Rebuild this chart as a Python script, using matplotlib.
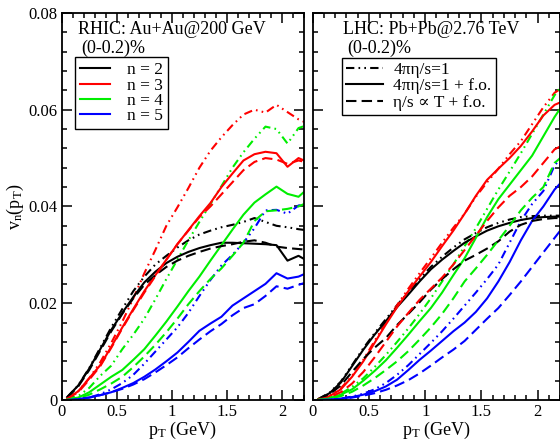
import numpy as np
import matplotlib.pyplot as plt
from matplotlib.lines import Line2D

plt.rcParams["font.family"] = ["Liberation Serif", "DejaVu Serif"]
plt.rcParams["mathtext.fontset"] = "custom"
plt.rcParams["mathtext.rm"] = "Liberation Serif"
plt.rcParams["mathtext.it"] = "Liberation Serif:italic"

# transverse momentum grid (GeV), shared by every curve
pt = [0.05, 0.15, 0.25, 0.35, 0.45, 0.55, 0.65, 0.75, 0.85, 0.95, 1.05, 1.15,
      1.25, 1.35, 1.45, 1.55, 1.65, 1.75, 1.85, 1.95, 2.05, 2.15, 2.25]

harmonics = ["n = 2", "n = 3", "n = 4", "n = 5"]
scenarios = ["4πη/s=1", "4πη/s=1 + f.o.", "η/s ∝ T + f.o."]

# RHIC Au+Au 200 GeV, 4pi eta/s = 1 without freeze-out
rhic_v2_ideal = [0.0006, 0.0030, 0.0066, 0.0108, 0.0150, 0.0188, 0.0225, 0.0255, 0.0280, 0.0298, 0.0315, 0.0330,
                 0.0342, 0.0350, 0.0357, 0.0362, 0.0368, 0.0376, 0.0368, 0.0360, 0.0357, 0.0353, 0.0350]
rhic_v3_ideal = [0.0004, 0.0018, 0.0045, 0.0078, 0.0118, 0.0162, 0.0210, 0.0262, 0.0310, 0.0360, 0.0398, 0.0438,
                 0.0480, 0.0515, 0.0543, 0.0568, 0.0590, 0.0600, 0.0594, 0.0610, 0.0595, 0.0580, 0.0570]
rhic_v4_ideal = [0.0001, 0.0008, 0.0025, 0.0050, 0.0071, 0.0105, 0.0135, 0.0168, 0.0208, 0.0250, 0.0290, 0.0330,
                 0.0368, 0.0405, 0.0442, 0.0480, 0.0512, 0.0540, 0.0565, 0.0560, 0.0530, 0.0562, 0.0570]
rhic_v5_ideal = [0.0000, 0.0002, 0.0005, 0.0012, 0.0022, 0.0035, 0.0052, 0.0075, 0.0100, 0.0125, 0.0150, 0.0180,
                 0.0215, 0.0248, 0.0278, 0.0300, 0.0325, 0.0355, 0.0392, 0.0393, 0.0385, 0.0402, 0.0405]

# RHIC, 4pi eta/s = 1 + freeze-out
rhic_v2_fo = [0.0006, 0.0030, 0.0065, 0.0105, 0.0145, 0.0180, 0.0213, 0.0243, 0.0265, 0.0283, 0.0296, 0.0306,
              0.0314, 0.0320, 0.0325, 0.0325, 0.0324, 0.0323, 0.0322, 0.0320, 0.0288, 0.0298, 0.0285]
rhic_v3_fo = [0.0003, 0.0018, 0.0045, 0.0072, 0.0110, 0.0150, 0.0188, 0.0225, 0.0258, 0.0290, 0.0322, 0.0351,
              0.0380, 0.0407, 0.0440, 0.0468, 0.0495, 0.0508, 0.0513, 0.0510, 0.0482, 0.0500, 0.0490]
rhic_v4_fo = [0.0001, 0.0005, 0.0016, 0.0032, 0.0048, 0.0062, 0.0083, 0.0105, 0.0133, 0.0162, 0.0193, 0.0225,
              0.0255, 0.0288, 0.0320, 0.0352, 0.0383, 0.0408, 0.0425, 0.0441, 0.0426, 0.0420, 0.0440]
rhic_v5_fo = [0.0000, 0.0002, 0.0005, 0.0010, 0.0016, 0.0025, 0.0035, 0.0048, 0.0063, 0.0080, 0.0098, 0.0120,
              0.0143, 0.0158, 0.0172, 0.0195, 0.0210, 0.0225, 0.0240, 0.0262, 0.0251, 0.0255, 0.0265]

# RHIC, eta/s ~ T + freeze-out
rhic_v2_T = [0.0005, 0.0028, 0.0062, 0.0102, 0.0142, 0.0178, 0.0210, 0.0238, 0.0258, 0.0275, 0.0288, 0.0298,
             0.0306, 0.0313, 0.0318, 0.0322, 0.0327, 0.0330, 0.0325, 0.0317, 0.0314, 0.0312, 0.0310]
rhic_v3_T = [0.0003, 0.0016, 0.0042, 0.0070, 0.0108, 0.0148, 0.0186, 0.0222, 0.0256, 0.0290, 0.0322, 0.0350,
             0.0378, 0.0400, 0.0425, 0.0450, 0.0475, 0.0492, 0.0500, 0.0497, 0.0488, 0.0495, 0.0490]
rhic_v4_T = [0.0001, 0.0004, 0.0011, 0.0022, 0.0034, 0.0048, 0.0068, 0.0090, 0.0114, 0.0140, 0.0168, 0.0198,
             0.0225, 0.0250, 0.0272, 0.0298, 0.0325, 0.0370, 0.0390, 0.0392, 0.0395, 0.0400, 0.0410]
rhic_v5_T = [0.0000, 0.0002, 0.0005, 0.0010, 0.0016, 0.0023, 0.0032, 0.0043, 0.0057, 0.0072, 0.0088, 0.0107,
             0.0125, 0.0142, 0.0157, 0.0175, 0.0190, 0.0198, 0.0215, 0.0235, 0.0230, 0.0238, 0.0245]

# LHC Pb+Pb 2.76 TeV, 4pi eta/s = 1 without freeze-out
lhc_v2_ideal = [0.0002, 0.0015, 0.0038, 0.0072, 0.0107, 0.0138, 0.0167, 0.0196, 0.0223, 0.0250, 0.0275, 0.0296,
                0.0315, 0.0332, 0.0345, 0.0357, 0.0366, 0.0373, 0.0378, 0.0380, 0.0381, 0.0381, 0.0381]
lhc_v3_ideal = [0.0002, 0.0009, 0.0024, 0.0050, 0.0083, 0.0122, 0.0160, 0.0196, 0.0230, 0.0262, 0.0293, 0.0325,
                0.0356, 0.0385, 0.0420, 0.0450, 0.0478, 0.0508, 0.0535, 0.0570, 0.0605, 0.0635, 0.0650]
lhc_v4_ideal = [0.0001, 0.0005, 0.0013, 0.0027, 0.0045, 0.0068, 0.0093, 0.0120, 0.0148, 0.0178, 0.0210, 0.0245,
                0.0280, 0.0318, 0.0355, 0.0395, 0.0435, 0.0472, 0.0510, 0.0550, 0.0590, 0.0630, 0.0660]
lhc_v5_ideal = [0.0000, 0.0001, 0.0003, 0.0007, 0.0013, 0.0022, 0.0035, 0.0052, 0.0072, 0.0095, 0.0118, 0.0142,
                0.0168, 0.0195, 0.0222, 0.0250, 0.0280, 0.0325, 0.0370, 0.0405, 0.0432, 0.0485, 0.0510]

# LHC, 4pi eta/s = 1 + freeze-out
lhc_v2_fo = [0.0002, 0.0014, 0.0036, 0.0070, 0.0104, 0.0135, 0.0163, 0.0192, 0.0218, 0.0245, 0.0270, 0.0290,
             0.0308, 0.0325, 0.0338, 0.0350, 0.0359, 0.0366, 0.0372, 0.0376, 0.0378, 0.0379, 0.0379]
lhc_v3_fo = [0.0002, 0.0008, 0.0022, 0.0048, 0.0080, 0.0118, 0.0156, 0.0192, 0.0225, 0.0255, 0.0285, 0.0318,
             0.0350, 0.0385, 0.0422, 0.0455, 0.0478, 0.0500, 0.0525, 0.0555, 0.0588, 0.0610, 0.0620]
lhc_v4_fo = [0.0001, 0.0004, 0.0011, 0.0022, 0.0040, 0.0060, 0.0082, 0.0108, 0.0135, 0.0163, 0.0190, 0.0222,
             0.0258, 0.0293, 0.0335, 0.0378, 0.0415, 0.0445, 0.0475, 0.0505, 0.0545, 0.0585, 0.0620]
lhc_v5_fo = [0.0000, 0.0001, 0.0003, 0.0006, 0.0011, 0.0018, 0.0028, 0.0042, 0.0062, 0.0083, 0.0102, 0.0122,
             0.0142, 0.0160, 0.0182, 0.0210, 0.0245, 0.0285, 0.0330, 0.0370, 0.0400, 0.0435, 0.0460]

# LHC, eta/s ~ T + freeze-out
lhc_v2_T = [0.0001, 0.0012, 0.0030, 0.0058, 0.0085, 0.0108, 0.0128, 0.0155, 0.0178, 0.0202, 0.0228, 0.0250,
            0.0270, 0.0288, 0.0300, 0.0313, 0.0328, 0.0348, 0.0362, 0.0370, 0.0374, 0.0376, 0.0376]
lhc_v3_T = [0.0001, 0.0006, 0.0016, 0.0034, 0.0058, 0.0088, 0.0120, 0.0152, 0.0180, 0.0207, 0.0230, 0.0253,
            0.0280, 0.0310, 0.0340, 0.0370, 0.0398, 0.0422, 0.0440, 0.0462, 0.0490, 0.0518, 0.0530]
lhc_v4_T = [0.0001, 0.0003, 0.0008, 0.0017, 0.0030, 0.0045, 0.0062, 0.0080, 0.0101, 0.0125, 0.0150, 0.0178,
            0.0210, 0.0245, 0.0272, 0.0300, 0.0330, 0.0360, 0.0392, 0.0418, 0.0440, 0.0490, 0.0510]
lhc_v5_T = [0.0000, 0.0001, 0.0002, 0.0005, 0.0009, 0.0014, 0.0021, 0.0030, 0.0041, 0.0055, 0.0071, 0.0088,
            0.0104, 0.0122, 0.0145, 0.0168, 0.0190, 0.0217, 0.0245, 0.0275, 0.0305, 0.0335, 0.0365]

colors = ["black", "#ff0000", "#00ee00", "#0000ff"]
styles = [(0, (4, 2, 0.8, 2, 0.8, 2)), "-", (0, (5, 2.5))]
lw = 1.5

panels = [
    ("RHIC: Au+Au@200 GeV",
     [[rhic_v2_ideal, rhic_v3_ideal, rhic_v4_ideal, rhic_v5_ideal],
      [rhic_v2_fo, rhic_v3_fo, rhic_v4_fo, rhic_v5_fo],
      [rhic_v2_T, rhic_v3_T, rhic_v4_T, rhic_v5_T]]),
    ("LHC: Pb+Pb@2.76 TeV",
     [[lhc_v2_ideal, lhc_v3_ideal, lhc_v4_ideal, lhc_v5_ideal],
      [lhc_v2_fo, lhc_v3_fo, lhc_v4_fo, lhc_v5_fo],
      [lhc_v2_T, lhc_v3_T, lhc_v4_T, lhc_v5_T]]),
]

fig = plt.figure(figsize=(5.6, 4.41), dpi=100)
ax_l = fig.add_axes([0.1102, 0.0930, 0.4327, 0.8777])
ax_r = fig.add_axes([0.5584, 0.0930, 0.4420, 0.8777])

for ax, (title, series) in zip([ax_l, ax_r], panels):
    for style, group in zip(styles, series):
        for color, vn in zip(colors, group):
            ax.plot(pt, vn, color=color, ls=style, lw=lw)

    ax.set_xlim(0, 2.2)
    ax.set_ylim(0, 0.08)
    ax.set_xticks([0, 0.5, 1, 1.5, 2])
    ax.set_xticklabels(["0", "0.5", "1", "1.5", "2"])
    ax.set_xticks(np.arange(0, 2.21, 0.1), minor=True)
    ax.set_yticks([0, 0.02, 0.04, 0.06, 0.08])
    ax.set_yticks(np.arange(0, 0.0801, 0.004), minor=True)
    ax.tick_params(which="both", direction="in", top=True, right=True, labelsize=12, width=1.1)
    ax.tick_params(which="major", length=7, pad=3)
    ax.tick_params(which="minor", length=3.5)
    for sp in ax.spines.values():
        sp.set_linewidth(1.3)
    ax.set_xlabel(r"p$_\mathrm{T}$ (GeV)", fontsize=13, labelpad=-0.5)

    ax.text(0.066 if ax is ax_l else 0.122, 0.956, title, transform=ax.transAxes,
            fontsize=13, ha="left", va="center")
    ax.text(0.082 if ax is ax_l else 0.138, 0.909, "(0-0.2)%", transform=ax.transAxes,
            fontsize=13, ha="left", va="center")

ax_l.set_yticklabels(["0", "0.02", "0.04", "0.06", "0.08"])
ax_r.set_yticklabels([])
ax_l.set_ylabel(r"v$_\mathrm{n}$(p$_\mathrm{T}$)", fontsize=13, labelpad=2)

# harmonic order legend
h_n = [Line2D([], [], color=c, lw=lw) for c in colors]
leg = ax_l.legend(h_n, harmonics, loc="upper left", bbox_to_anchor=(0.054, 0.886),
                  borderaxespad=0, fontsize=12.5, handlelength=1.7, handletextpad=1.0,
                  labelspacing=-0.05, borderpad=0.3, fancybox=False, edgecolor="black",
                  framealpha=1)
leg.get_frame().set_linewidth(1.0)

# viscosity scenario legend
h_s = [Line2D([], [], color="black", lw=lw, ls=s) for s in styles]
leg = ax_r.legend(h_s, scenarios, loc="upper left", bbox_to_anchor=(0.118, 0.884),
                  borderaxespad=0, fontsize=12.5, handlelength=2.1, handletextpad=0.6,
                  labelspacing=0.0, borderpad=0.25, fancybox=False, edgecolor="black",
                  framealpha=1)
leg.get_frame().set_linewidth(1.0)

fig.savefig("out.png", dpi=100)
